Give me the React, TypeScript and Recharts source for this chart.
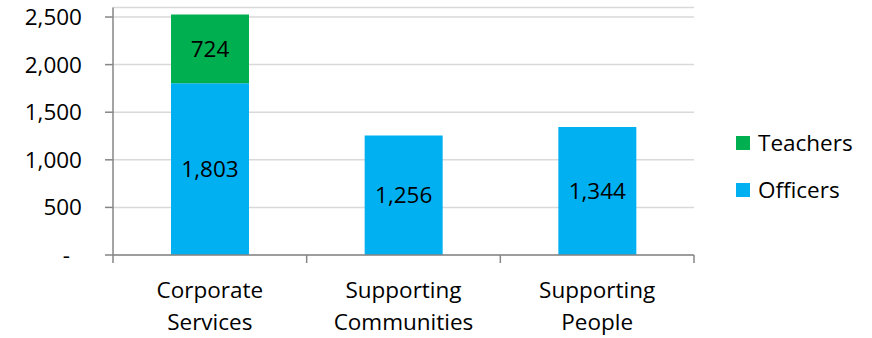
import React from "react";
import { BarChart, Bar, XAxis, YAxis, CartesianGrid, Legend, LabelList } from "recharts";

const categories = ["Corporate Services", "Supporting Communities", "Supporting People"];
const officers = [1803, 1256, 1344];
const teachers = [724, null, null];
const yTicks = [0, 500, 1000, 1500, 2000, 2500];

const BLUE = "#00B0F0";
const GREEN = "#00B050";
const AXIS = "#868686";
const FONT = "'Open Sans', Lato, sans-serif";
const FS = 22.5;

const data = categories.map((name, i) => ({
  name,
  officers: officers[i],
  teachers: teachers[i],
}));

const fmt = (v: number) => (v === 0 ? "-" : v.toLocaleString("en-US"));

const YTick = (props: any) => {
  const { x, y, payload } = props;
  const isZero = payload.value === 0;
  return (
    <text
      x={isZero ? x - 12 : x}
      y={y}
      dy={8}
      textAnchor="end"
      fontSize={FS}
      fontFamily={FONT}
      fill="#000"
    >
      {fmt(payload.value)}
    </text>
  );
};

// category labels on two lines, plus Excel-style tick marks between categories
const XTick = (props: any) => {
  const { x, y, payload, index, visibleTicksCount } = props;
  const half = payload.offset || 0;
  const words = String(payload.value).split(" ");
  return (
    <g>
      <line x1={x - half} x2={x - half} y1={y} y2={y + 8} stroke={AXIS} strokeWidth={1.5} />
      {index === visibleTicksCount - 1 && (
        <line x1={x + half} x2={x + half} y1={y} y2={y + 8} stroke={AXIS} strokeWidth={1.5} />
      )}
      <text x={x} y={y} textAnchor="middle" fontSize={FS} fontFamily={FONT} fill="#000">
        {words.map((w, i) => (
          <tspan key={i} x={x} dy={i === 0 ? 43 : 32}>
            {w}
          </tspan>
        ))}
      </text>
    </g>
  );
};

const legendItems = [
  { label: "Teachers", color: GREEN },
  { label: "Officers", color: BLUE },
];

const LegendBox = () => (
  <div style={{ fontFamily: FONT, fontSize: FS, color: "#000" }}>
    {legendItems.map((it) => (
      <div key={it.label} style={{ display: "flex", alignItems: "center", height: 47 }}>
        <span style={{ width: 14, height: 14, background: it.color, marginRight: 8 }} />
        {it.label}
      </div>
    ))}
  </div>
);

export default function App() {
  return (
    <div style={{ position: "absolute", left: 0, top: 0, width: 872, height: 338, background: "#fff" }}>
      <BarChart
        width={872}
        height={338}
        data={data}
        margin={{ top: 7.5, right: 178, bottom: 0, left: 0 }}
        barSize={78}
      >
        <CartesianGrid vertical={false} stroke="#d9d9d9" strokeWidth={1.5} />
        <XAxis
          dataKey="name"
          height={83}
          axisLine={{ stroke: AXIS, strokeWidth: 1.5 }}
          tickLine={false}
          tickSize={0}
          tickMargin={0}
          tick={<XTick />}
          interval={0}
        />
        <YAxis
          width={113}
          domain={[0, 2600]}
          ticks={yTicks}
          interval={0}
          axisLine={{ stroke: AXIS, strokeWidth: 1.5 }}
          tickLine={{ stroke: AXIS, strokeWidth: 1.5 }}
          tickSize={8}
          tickMargin={23}
          tick={<YTick />}
        />
        <Legend
          layout="vertical"
          align="center"
          verticalAlign="middle"
          content={<LegendBox />}
          wrapperStyle={{ left: 736, top: 119, width: 136 }}
        />
        <Bar dataKey="officers" name="Officers" stackId="a" fill={BLUE} isAnimationActive={false}>
          <LabelList dataKey="officers" position="center" formatter={(v: any) => (v ? fmt(v) : "")} fontSize={FS} fontFamily={FONT} fill="#000" />
        </Bar>
        <Bar dataKey="teachers" name="Teachers" stackId="a" fill={GREEN} isAnimationActive={false}>
          <LabelList dataKey="teachers" position="center" formatter={(v: any) => (v ? fmt(v) : "")} fontSize={FS} fontFamily={FONT} fill="#000" />
        </Bar>
      </BarChart>
    </div>
  );
}
